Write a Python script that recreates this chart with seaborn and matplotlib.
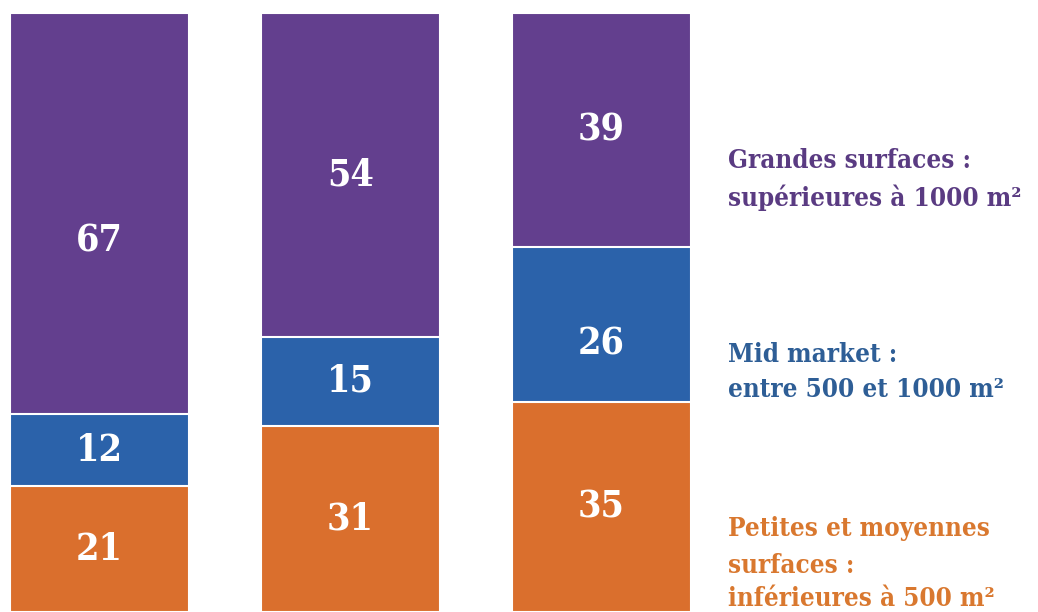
import matplotlib
matplotlib.use("Agg")
import matplotlib.pyplot as plt
import seaborn as sns
import pandas as pd
import numpy as np

# Data
categories = ["A", "B", "C"]
grandes = [67, 54, 39]
mid = [12, 15, 26]
petites = [21, 31, 35]
legend_labels = [
    ["Grandes surfaces :", "supérieures à 1000 m²"],
    ["Mid market :", "entre 500 et 1000 m²"],
    ["Petites et moyennes", "surfaces :", "inférieures à 500 m²"],
]

col_purple = "#633F8E"
col_blue = "#2B62AA"
col_orange = "#DA6F2D"
txt_colors = ["#5A3B82", "#2E5E96", "#D9782F"]

sns.set_theme(style="white")
plt.rcParams['font.family'] = ['DejaVu Serif', 'DejaVu Sans']

df = pd.DataFrame({"cat": categories, "g": grandes, "m": mid, "p": petites})
df["total"] = df["g"] + df["m"] + df["p"]
df["pm"] = df["p"] + df["m"]

fig = plt.figure(figsize=(10.38, 6.12), dpi=100)
ax = fig.add_axes([0, 0, 1, 1])

bw = 0.713
sns.barplot(data=df, x="cat", y="total", color=col_purple, saturation=1,
            width=bw, edgecolor="white", linewidth=1.5, ax=ax)
sns.barplot(data=df, x="cat", y="pm", color=col_blue, saturation=1,
            width=bw, edgecolor="white", linewidth=1.5, ax=ax)
sns.barplot(data=df, x="cat", y="p", color=col_orange, saturation=1,
            width=bw, edgecolor="white", linewidth=1.5, ax=ax)

ax.set_xlim(-0.396, 3.739)
ax.set_ylim(0, 102.2)
ax.axis("off")

# label placement nudges (layout only, in value units)
nudge = {(0, "g"): -4.5, (2, "m"): -3.2}

num_kw = dict(color="white", fontsize=27, fontweight="bold", ha="center",
              va="center", fontstretch="condensed",
              family=["DejaVu Serif", "DejaVu Sans"])
for i in range(len(categories)):
    p, m, g = petites[i], mid[i], grandes[i]
    ax.text(i, p / 2 + nudge.get((i, "p"), 0), str(p), **num_kw)
    ax.text(i, p + m / 2 + nudge.get((i, "m"), 0), str(m), **num_kw)
    ax.text(i, p + m + g / 2 + nudge.get((i, "g"), 0), str(g), **num_kw)

W, H = 1038, 612
baselines = [[168, 206], [362, 397], [536, 573, 606]]
leg_kw = dict(fontsize=18.6, fontweight="bold", ha="left", va="baseline",
              fontstretch="condensed")
for lines, ys, c in zip(legend_labels, baselines, txt_colors):
    for line, y in zip(lines, ys):
        fig.text(728 / W, 1 - y / H, line, color=c, **leg_kw)

fig.savefig("out.png", dpi=100, facecolor="white")
